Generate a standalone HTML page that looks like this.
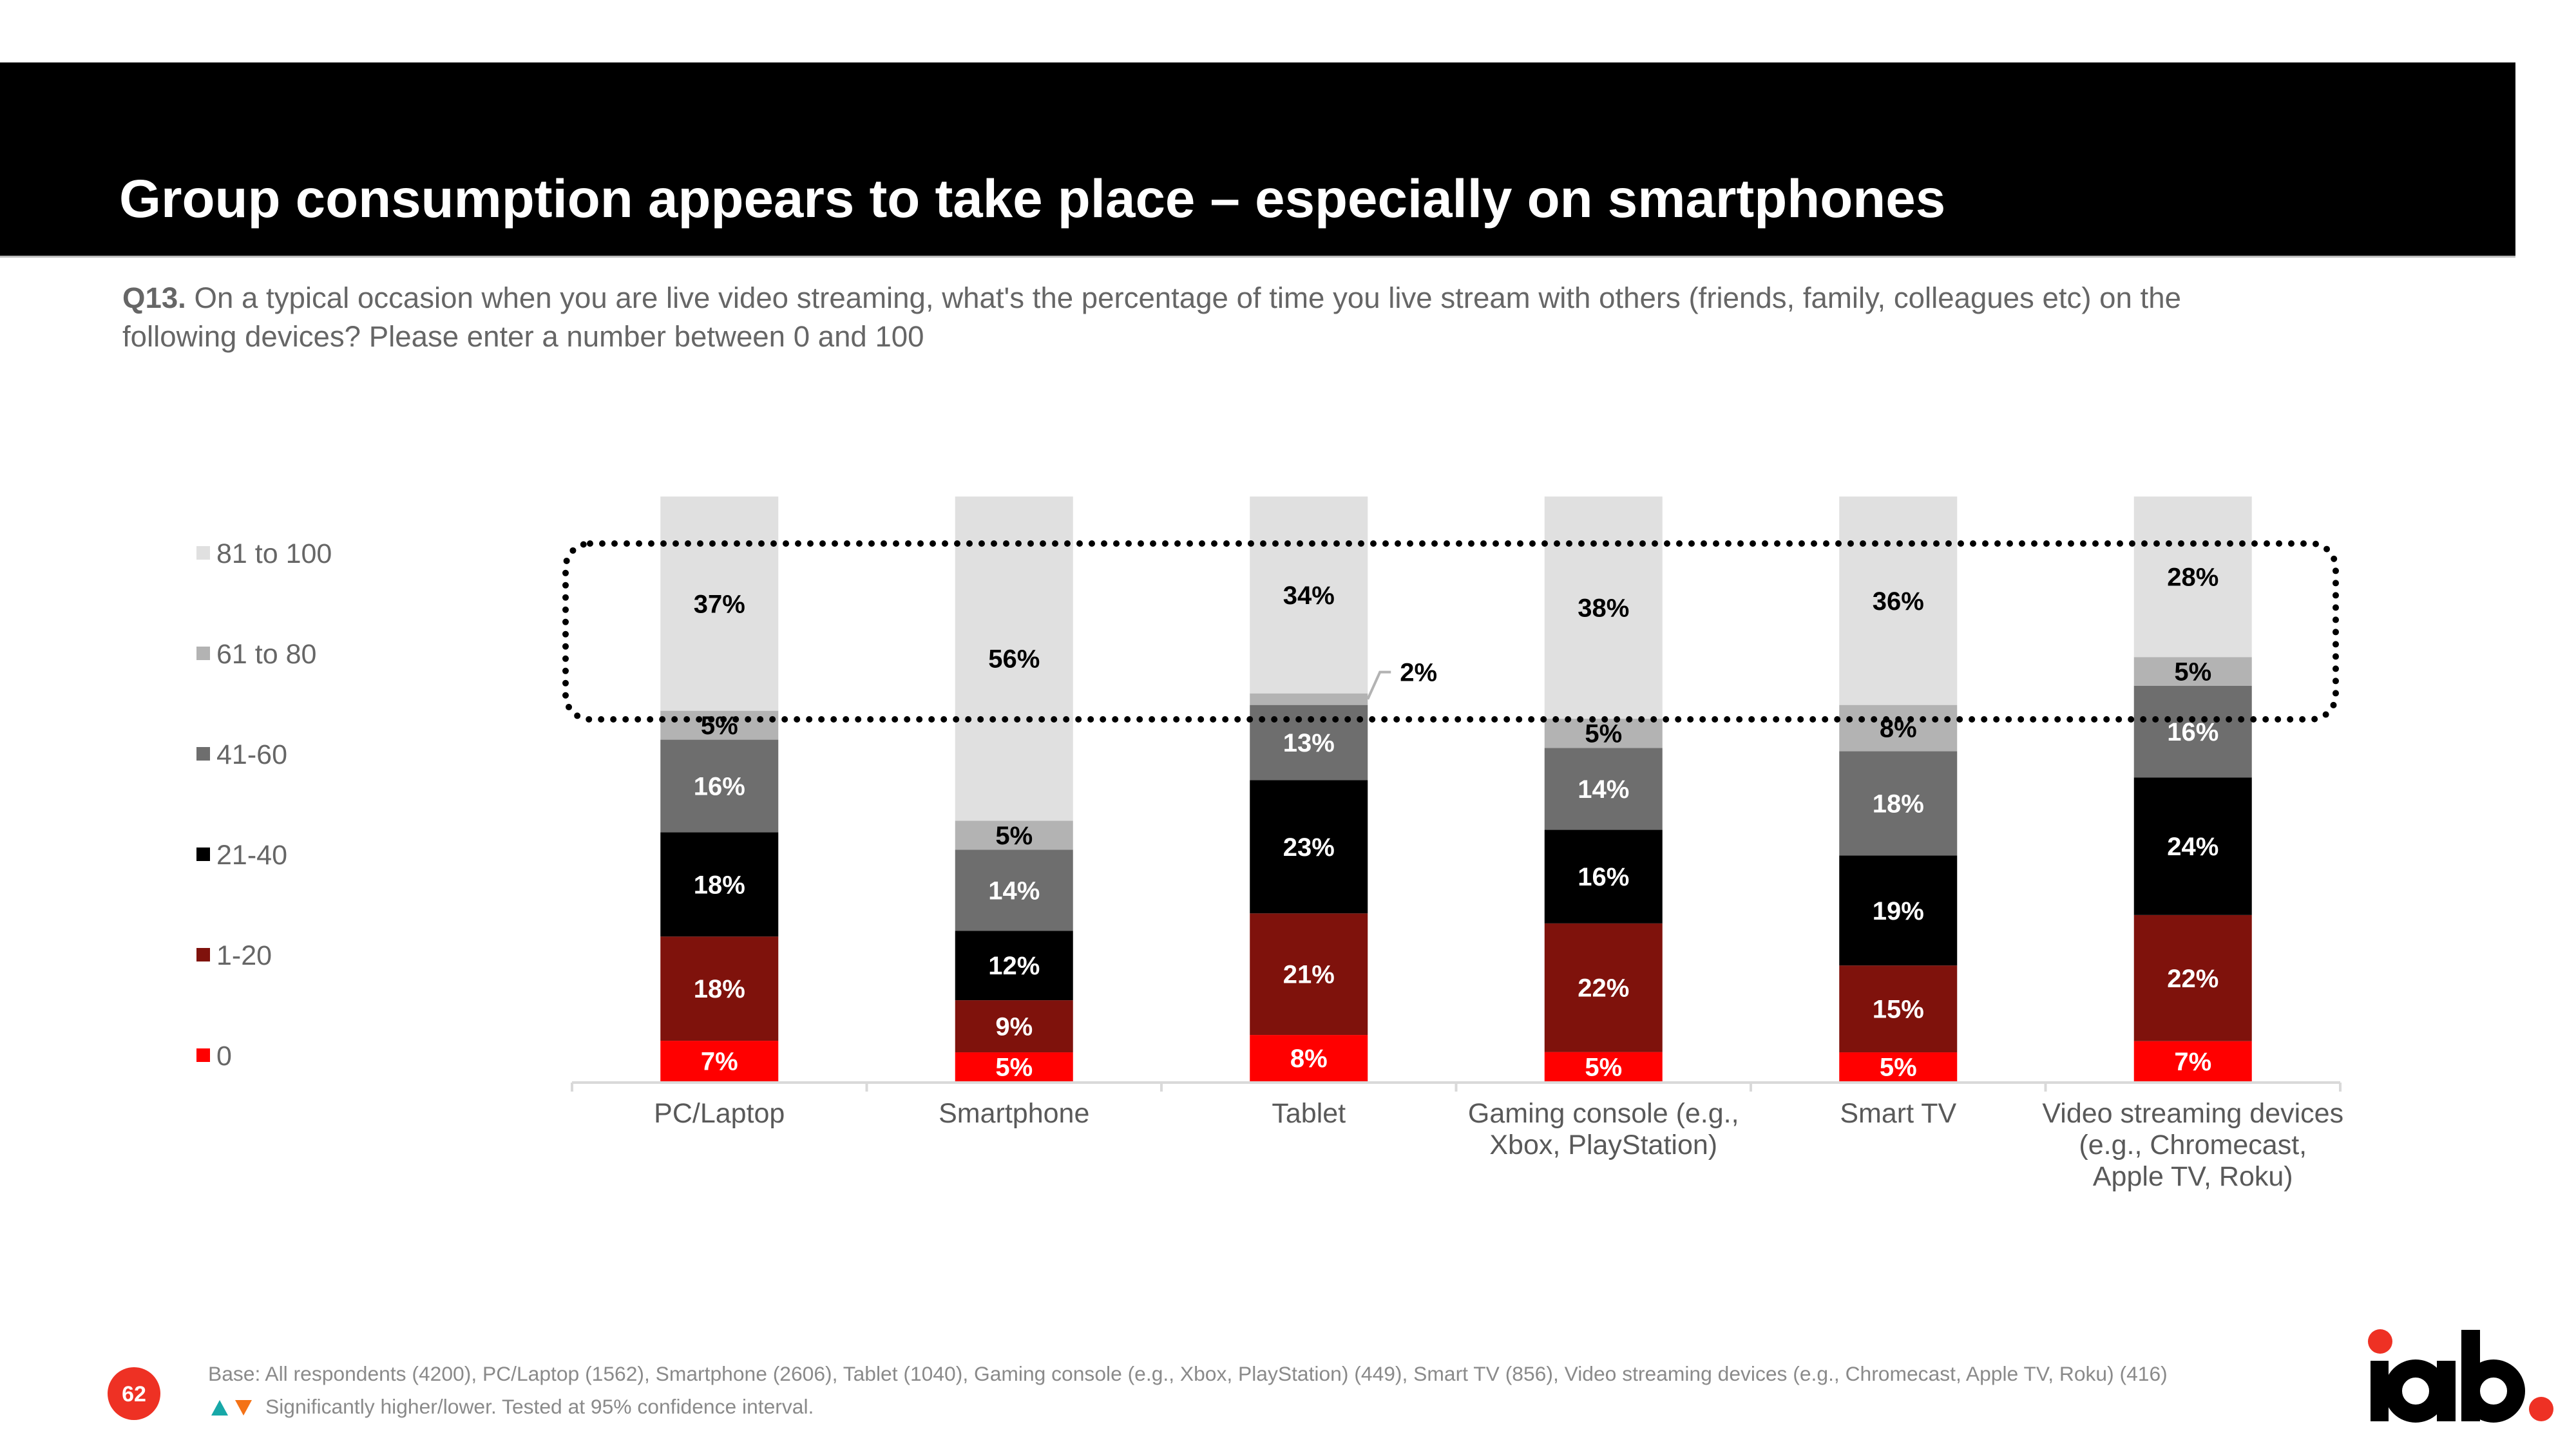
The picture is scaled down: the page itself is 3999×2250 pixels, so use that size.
<!DOCTYPE html>
<html><head><meta charset="utf-8"><style>
html,body{margin:0;padding:0;background:#fff;}
body{width:3999px;height:2250px;overflow:hidden;position:relative;font-family:"Liberation Sans",Arial,sans-serif;}
svg{position:absolute;left:0;top:0;}
</style></head><body>
<svg id="chart" width="3999" height="2250" viewBox="0 0 3999 2250" xmlns="http://www.w3.org/2000/svg" font-family="Liberation Sans, Arial, sans-serif">
  <rect x="0" y="97" width="3905" height="300" fill="#000"/>
  <rect x="0" y="397" width="3905" height="3" fill="#bbb"/>
  <text x="185" y="337" font-size="83.5" font-weight="bold" fill="#fff">Group consumption appears to take place – especially on smartphones</text>
  <text font-size="45.6" fill="#666">
    <tspan x="190" y="478"><tspan font-weight="bold">Q13.</tspan> On a typical occasion when you are live video streaming, what's the percentage of time you live stream with others (friends, family, colleagues etc) on the</tspan>
    <tspan x="190" y="538">following devices? Please enter a number between 0 and 100</tspan>
  </text>
  <g id="legend"></g>
  <g id="bars"></g>
  <g id="axis"></g>
  <rect x="878" y="844" width="2748" height="273" rx="38" ry="38" fill="none" stroke="#000" stroke-width="10" stroke-linecap="round" stroke-dasharray="0 19"/>
  <circle cx="208" cy="2164" r="41" fill="#ee3124"/>
  <text x="208" y="2176" font-size="34" font-weight="bold" fill="#fff" text-anchor="middle">62</text>
  <text x="323" y="2144" font-size="31.8" fill="#8a8a8a">Base: All respondents (4200), PC/Laptop (1562), Smartphone (2606), Tablet (1040), Gaming console (e.g., Xbox, PlayStation) (449), Smart TV (856), Video streaming devices (e.g., Chromecast, Apple TV, Roku) (416)</text>
  <polygon points="328,2198 341,2174 354,2198" fill="#17a8a8"/>
  <polygon points="365,2174 391,2174 378,2198" fill="#f47216"/>
  <text x="412" y="2195" font-size="31.8" fill="#8a8a8a">Significantly higher/lower. Tested at 95% confidence interval.</text>
  <g>
    <circle cx="3695" cy="2083" r="19" fill="#ee3124"/>
    <rect x="3680" y="2113" width="28" height="94" fill="#000"/>
    <circle cx="3750" cy="2160" r="35" fill="none" stroke="#000" stroke-width="28"/>
    <rect x="3783" y="2113" width="29" height="94" fill="#000"/>
    <rect x="3821" y="2065" width="29" height="142" fill="#000"/>
    <circle cx="3871" cy="2160" r="35" fill="none" stroke="#000" stroke-width="28"/>
    <circle cx="3945" cy="2188" r="19" fill="#ee3124"/>
  </g>
</svg>
<script>
const categories = [["PC/Laptop"],["Smartphone"],["Tablet"],["Gaming console (e.g.,","Xbox, PlayStation)"],["Smart TV"],["Video streaming devices","(e.g., Chromecast,","Apple TV, Roku)"]];
const seriesNames = ["0","1-20","21-40","41-60","61 to 80","81 to 100"];
const s0 = [7,5,8,5,5,7];
const s1_20 = [18,9,21,22,15,22];
const s21_40 = [18,12,23,16,19,24];
const s41_60 = [16,14,13,14,18,16];
const s61_80 = [5,5,2,5,8,5];
const s81_100 = [37,56,34,38,36,28];
const series = [s0,s1_20,s21_40,s41_60,s61_80,s81_100];
const colors = ["#ff0000","#7f120c","#000000","#6e6e6e","#b3b3b3","#e0e0e0"];
const labelColors = ["#fff","#fff","#fff","#fff","#000","#000"];

const NS = "http://www.w3.org/2000/svg";
const x0 = 888, step = 457.5, barW = 183, yBase = 1679, yTop = 771;
function xCenter(i){ return x0 + step*(i+0.5); }
function yScale(frac){ return yBase - frac*(yBase-yTop); }
function mk(tag, attrs, parent){ const e=document.createElementNS(NS,tag); for(const k in attrs) e.setAttribute(k,attrs[k]); parent.appendChild(e); return e; }

const bars = document.getElementById('bars');
categories.forEach((c,i)=>{
  let total = 0; series.forEach(s=> total += s[i]);
  let cum = 0;
  series.forEach((s,k)=>{
    const v = s[i];
    const y1 = yScale(cum/total), y2 = yScale((cum+v)/total);
    const r = mk('rect',{x:xCenter(i)-barW/2,y:y2,width:barW,height:y1-y2,fill:colors[k]},bars);
    
    
    const ym = (y1+y2)/2;
    let t;
    if (v <= 2) {
      const ln = mk('polyline',{points:(xCenter(i)+barW/2)+','+ym+' '+(xCenter(i)+barW/2+19)+','+(ym-42)+' '+(xCenter(i)+barW/2+36)+','+(ym-42),fill:'none',stroke:'#b3b3b3','stroke-width':4},bars);
      
      
      t = mk('text',{x:xCenter(i)+barW/2+50,y:ym-42+14,'font-size':40,'font-weight':'bold',fill:'#000'},bars);
    } else {
      t = mk('text',{x:xCenter(i),y:ym+14,'font-size':40,'font-weight':'bold',fill:labelColors[k],'text-anchor':'middle'},bars);
    }
    t.textContent = v + '%';
    
    
    cum += v;
  });
});

const axis = document.getElementById('axis');
const al = mk('line',{x1:x0,y1:yBase+2,x2:x0+step*categories.length,y2:yBase+2,stroke:'#d9d9d9','stroke-width':4},axis);


for(let i=0;i<=categories.length;i++){
  const tk = mk('line',{x1:x0+step*i,y1:yBase+2,x2:x0+step*i,y2:yBase+16,stroke:'#d9d9d9','stroke-width':4},axis);
  
  
}
categories.forEach((c,i)=>{
  const t = mk('text',{x:xCenter(i),'font-size':43,fill:'#595959','text-anchor':'middle'},axis);
  
  
  c.forEach((line,j)=>{ const ts = mk('tspan',{x:xCenter(i),y:1743+j*49},t); ts.textContent=line; });
});

const legend = document.getElementById('legend');
const legendOrder = [5,4,3,2,1,0];
const legendLabels = ["81 to 100","61 to 80","41-60","21-40","1-20","0"];
legendOrder.forEach((k,j)=>{
  const yc = 859 + j*156;
  const sw = mk('rect',{x:305,y:yc-11,width:21,height:21,fill:colors[k]},legend);
  
  
  const t = mk('text',{x:336,y:yc+15,'font-size':43,fill:'#666'},legend);
  t.textContent = legendLabels[j];
  
  
});
</script>
</body></html>
